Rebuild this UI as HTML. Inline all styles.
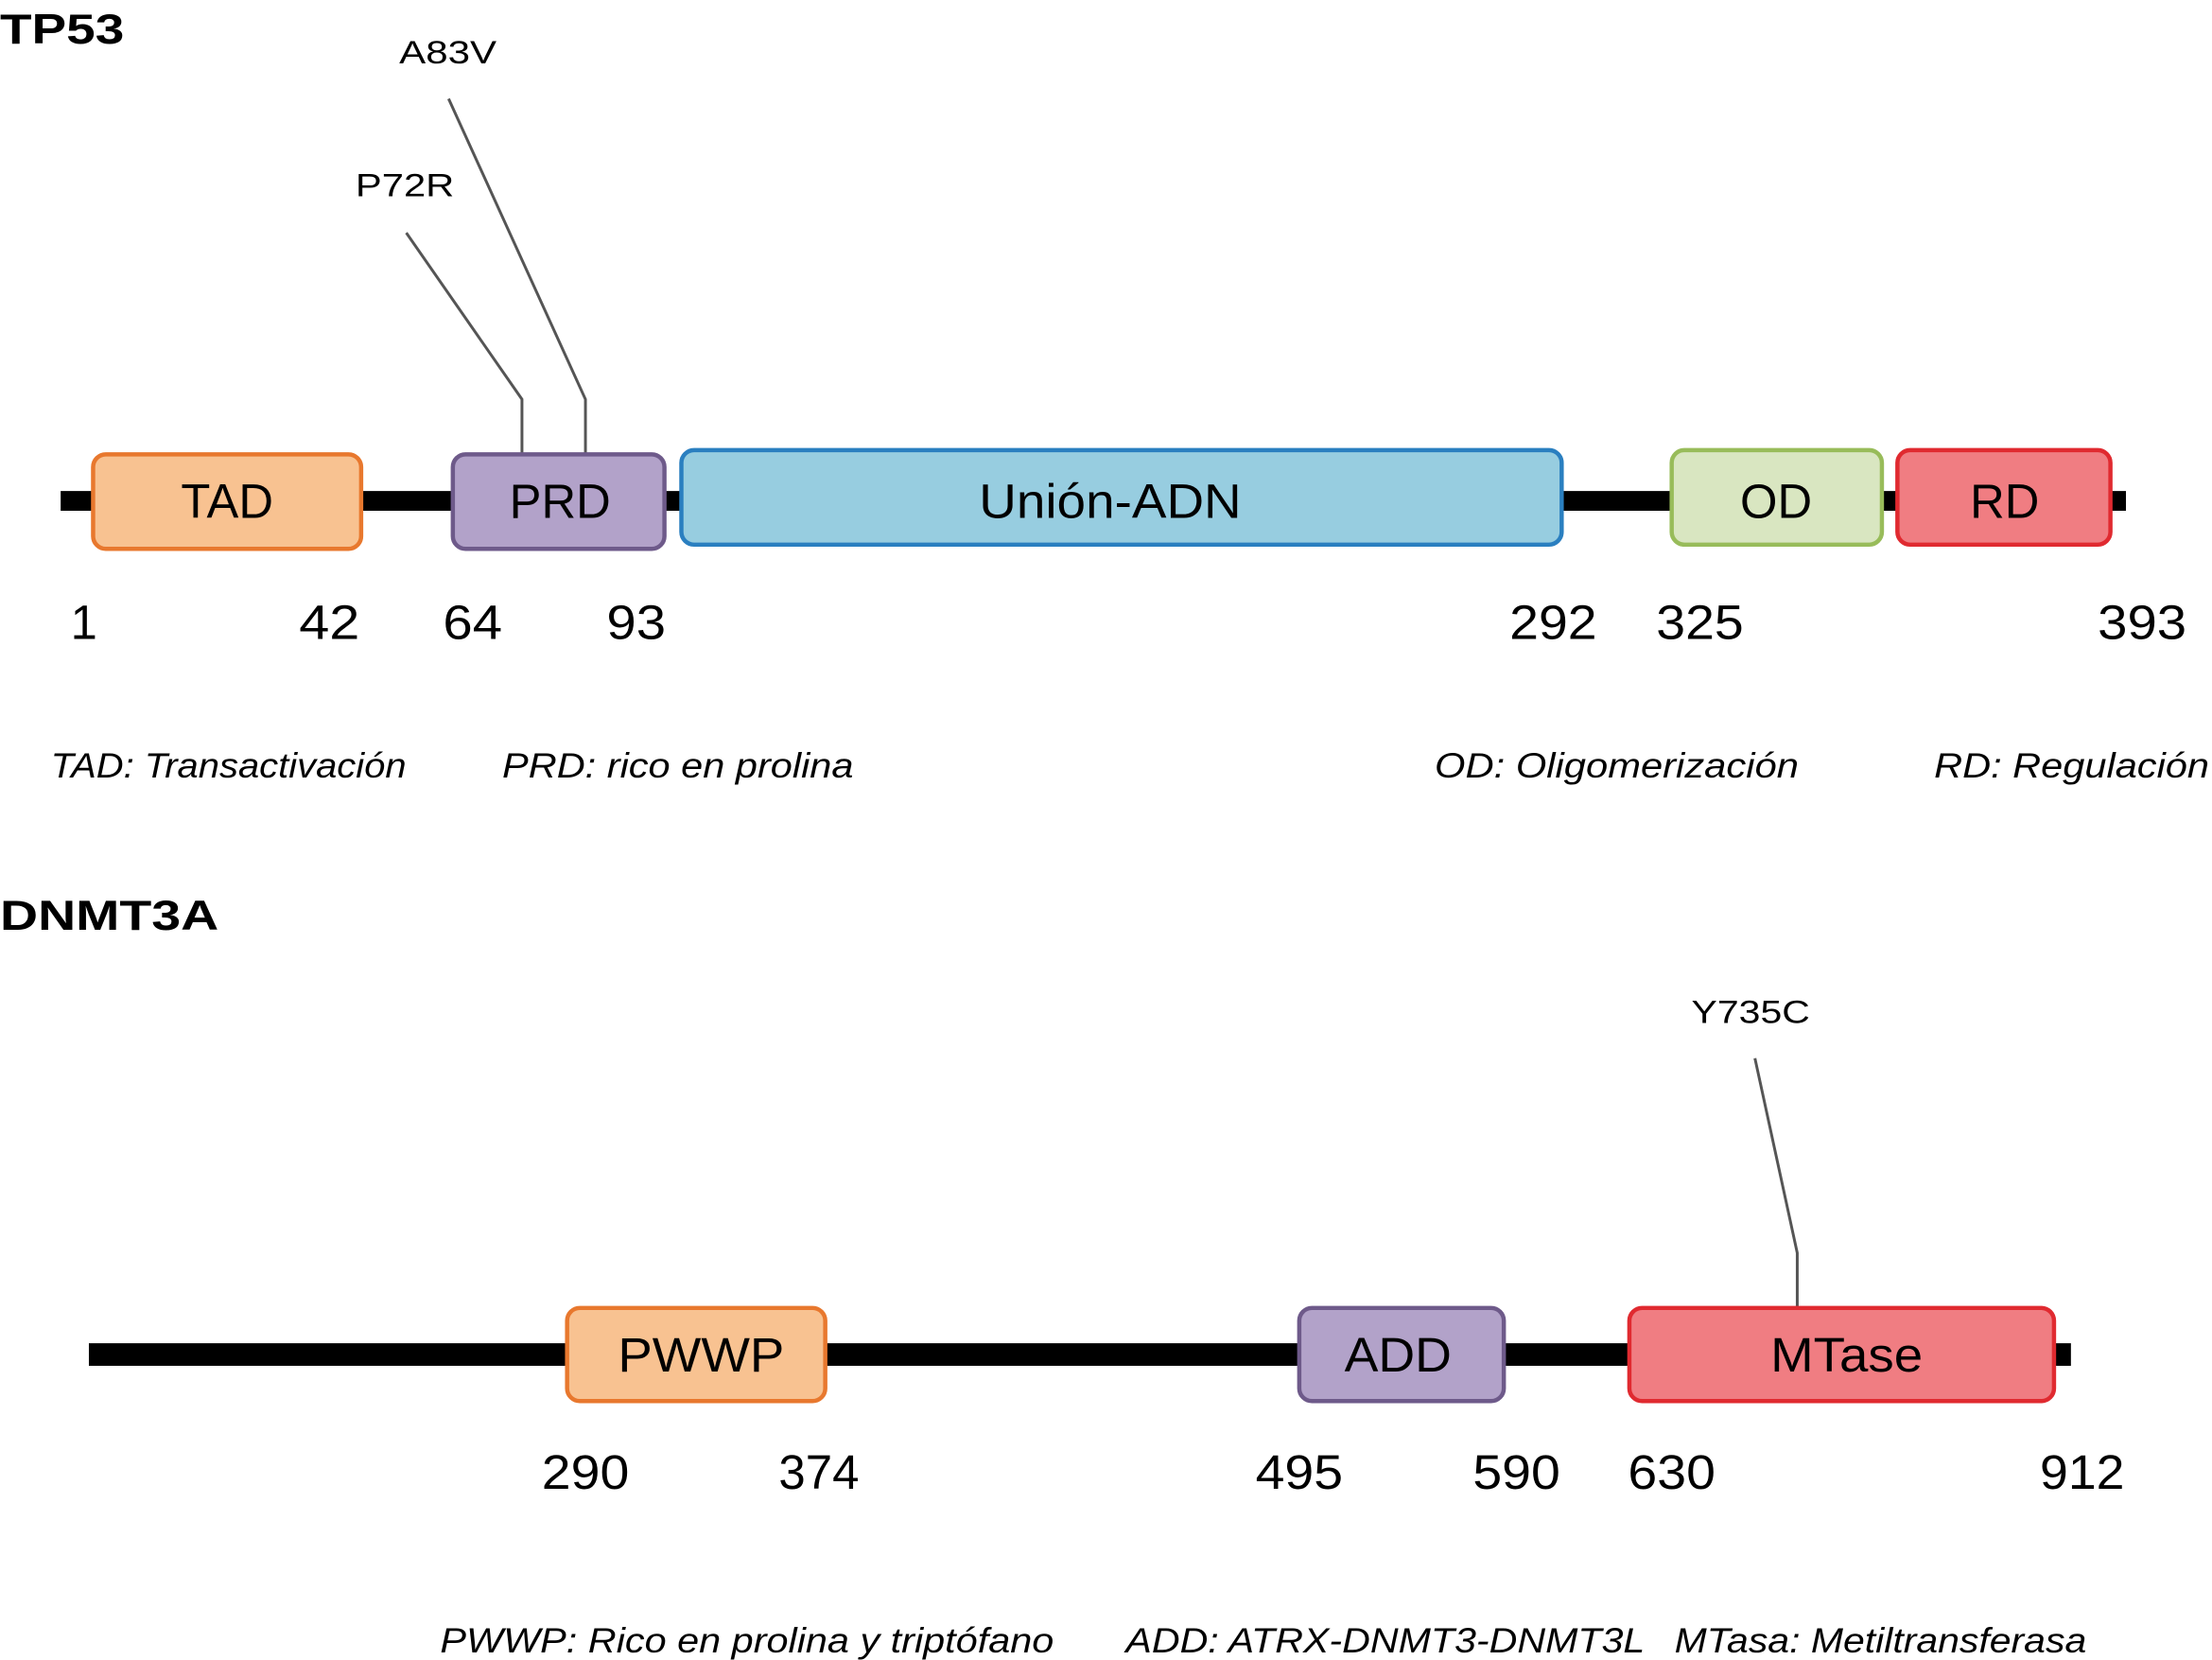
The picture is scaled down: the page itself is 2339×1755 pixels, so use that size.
<!DOCTYPE html>
<html><head><meta charset="utf-8"><style>html,body{margin:0;padding:0;background:#fff}svg{display:block}</style></head><body>
<svg width="2339" height="1755" viewBox="0 0 1568 1176.5" preserveAspectRatio="none" xmlns="http://www.w3.org/2000/svg" font-family="Liberation Sans, sans-serif">
<rect width="1568" height="1177" fill="#fff"/>
<text x="0" y="31" font-size="30" font-weight="bold" textLength="88" lengthAdjust="spacingAndGlyphs">TP53</text>
<polyline points="288,165 370,283 370,321" fill="none" stroke="#555" stroke-width="2"/>
<polyline points="318,70 415,283 415,321" fill="none" stroke="#555" stroke-width="2"/>
<text x="252" y="139" font-size="23" textLength="70" lengthAdjust="spacingAndGlyphs">P72R</text>
<text x="283" y="45" font-size="23" textLength="69" lengthAdjust="spacingAndGlyphs">A83V</text>
<rect x="43" y="348" width="1464" height="14" fill="#000"/>
<rect x="66" y="322" width="190" height="67" rx="9" fill="#f8c291" stroke="#e8782e" stroke-width="3"/>
<rect x="321" y="322" width="150" height="67" rx="9" fill="#b2a2c9" stroke="#6e5a8a" stroke-width="3"/>
<rect x="483" y="319" width="624" height="67" rx="9" fill="#97cde0" stroke="#2a7fc0" stroke-width="3"/>
<rect x="1185" y="319" width="149" height="67" rx="9" fill="#d9e6c1" stroke="#98bc5a" stroke-width="3"/>
<rect x="1345" y="319" width="151" height="67" rx="9" fill="#f07d82" stroke="#e02a30" stroke-width="3"/>
<g font-size="34" text-anchor="middle">
<text x="161" y="367">TAD</text>
<text x="397" y="367">PRD</text>
<text x="787" y="367" textLength="186" lengthAdjust="spacingAndGlyphs">Unión-ADN</text>
<text x="1259" y="367">OD</text>
<text x="1421" y="367">RD</text>
</g>
<g font-size="34">
<text x="50" y="453">1</text>
<text x="212" y="453" textLength="43" lengthAdjust="spacingAndGlyphs">42</text>
<text x="314" y="453" textLength="42" lengthAdjust="spacingAndGlyphs">64</text>
<text x="430" y="453" textLength="42" lengthAdjust="spacingAndGlyphs">93</text>
<text x="1070" y="453" textLength="62" lengthAdjust="spacingAndGlyphs">292</text>
<text x="1174" y="453" textLength="62" lengthAdjust="spacingAndGlyphs">325</text>
<text x="1487" y="453" textLength="63" lengthAdjust="spacingAndGlyphs">393</text>
</g>
<g font-size="25" font-style="italic">
<text x="36" y="551" textLength="252" lengthAdjust="spacingAndGlyphs">TAD: Transactivación</text>
<text x="356" y="551" textLength="249" lengthAdjust="spacingAndGlyphs">PRD: rico en prolina</text>
<text x="1017" y="551" textLength="258" lengthAdjust="spacingAndGlyphs">OD: Oligomerización</text>
<text x="1371" y="551" textLength="195" lengthAdjust="spacingAndGlyphs">RD: Regulación</text>
</g>
<text x="0" y="659" font-size="30" font-weight="bold" textLength="155" lengthAdjust="spacingAndGlyphs">DNMT3A</text>
<polyline points="1244,750 1274,888 1274,928" fill="none" stroke="#555" stroke-width="2"/>
<text x="1199" y="725" font-size="23" textLength="84" lengthAdjust="spacingAndGlyphs">Y735C</text>
<rect x="63" y="952" width="1405" height="16" fill="#000"/>
<rect x="402" y="927" width="183" height="66" rx="9" fill="#f8c291" stroke="#e8782e" stroke-width="3"/>
<rect x="921" y="927" width="145" height="66" rx="9" fill="#b2a2c9" stroke="#6e5a8a" stroke-width="3"/>
<rect x="1155" y="927" width="301" height="66" rx="9" fill="#f07d82" stroke="#e02a30" stroke-width="3"/>
<g font-size="34" text-anchor="middle">
<text x="497" y="972" textLength="118" lengthAdjust="spacingAndGlyphs">PWWP</text>
<text x="991" y="972" textLength="76" lengthAdjust="spacingAndGlyphs">ADD</text>
<text x="1309" y="972" textLength="108" lengthAdjust="spacingAndGlyphs">MTase</text>
</g>
<g font-size="34">
<text x="384" y="1055" textLength="62" lengthAdjust="spacingAndGlyphs">290</text>
<text x="552" y="1055" textLength="57" lengthAdjust="spacingAndGlyphs">374</text>
<text x="890" y="1055" textLength="62" lengthAdjust="spacingAndGlyphs">495</text>
<text x="1044" y="1055" textLength="62" lengthAdjust="spacingAndGlyphs">590</text>
<text x="1154" y="1055" textLength="62" lengthAdjust="spacingAndGlyphs">630</text>
<text x="1446" y="1055" textLength="60" lengthAdjust="spacingAndGlyphs">912</text>
</g>
<g font-size="25" font-style="italic">
<text x="312" y="1171" textLength="435" lengthAdjust="spacingAndGlyphs">PWWP: Rico en prolina y triptófano</text>
<text x="798" y="1171" textLength="368" lengthAdjust="spacingAndGlyphs">ADD: ATRX-DNMT3-DNMT3L</text>
<text x="1187" y="1171" textLength="292" lengthAdjust="spacingAndGlyphs">MTasa: Metiltransferasa</text>
</g>
</svg>
</body></html>
